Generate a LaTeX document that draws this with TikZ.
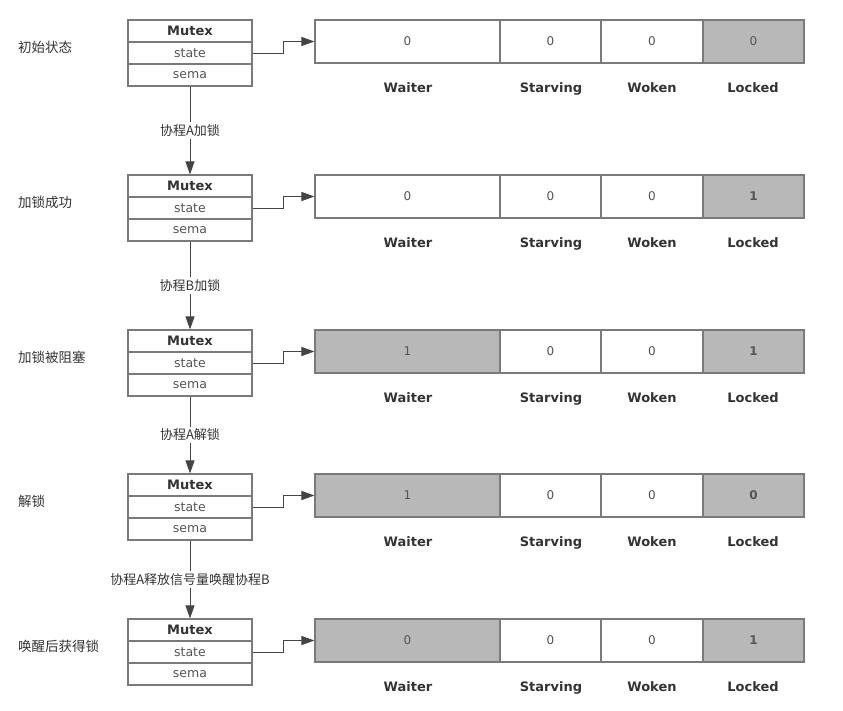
\documentclass[tikz,border=0pt]{standalone}
\usepackage{fontspec}
\setmainfont{DejaVu Sans}
\newfontfamily\cjk{Noto Sans CJK SC}
\usetikzlibrary{arrows.meta}
\definecolor{edgegray}{HTML}{7A7A7A}
\definecolor{grayfill}{HTML}{B8B8B8}
\definecolor{txt}{HTML}{333333}
\definecolor{valtxt}{HTML}{555555}
\definecolor{linecol}{HTML}{444444}
\tikzset{
  field/.style={draw=edgegray, line width=1.1pt, fill=white, minimum width=124pt,
    minimum height=22pt, inner sep=0pt, font=\fontsize{12.5}{14}\selectfont, text=valtxt},
  cell/.style={draw=edgegray, line width=1.1pt, minimum height=43pt, inner sep=0pt,
    font=\fontsize{12}{14}\selectfont, text=valtxt},
  bitlabel/.style={font=\fontsize{13}{15}\selectfont\bfseries, text=txt, inner sep=0pt,
    text height=9pt, text depth=3pt},
  sidelabel/.style={font=\cjk\fontsize{13.5}{15}\selectfont, text=txt, anchor=west, inner sep=0pt},
  conn/.style={draw=linecol, line width=1pt, -{Triangle[length=13pt,width=9pt]}},
  steplabel/.style={font=\cjk\fontsize{13}{15}\selectfont, text=txt, fill=white, inner sep=2pt}
}
\begin{document}
\begin{tikzpicture}[x=1pt,y=-1pt]
\useasboundingbox (0,0) rectangle (843,710);
\foreach \i/\t/\lab/\wv/\wf/\lv in {
  1/20/初始状态/0/white/0,
  2/175/加锁成功/0/white/\textbf{1},
  3/330/加锁被阻塞/1/grayfill/\textbf{1},
  4/474/解锁/1/grayfill/\textbf{0},
  5/619/唤醒后获得锁/0/grayfill/\textbf{1}}
{
  \node[sidelabel] (lab\i) at (18,\t+27) {\lab};
  \node[field, font=\fontsize{13}{15}\selectfont\bfseries, text=txt] (m\i) at (190,\t+11) {Mutex};
  \node[field] (st\i) at (190,\t+33) {state};
  \node[field] (se\i) at (190,\t+55) {sema};
  \node[cell, fill=\wf, minimum width=185pt] (w\i) at (407.5,\t+21.5) {\wv};
  \node[cell, fill=white, minimum width=101pt] (s\i) at (550.5,\t+21.5) {0};
  \node[cell, fill=white, minimum width=102pt] (k\i) at (652,\t+21.5) {0};
  \node[cell, fill=grayfill, minimum width=101pt] (l\i) at (753.5,\t+21.5) {\lv};
  \node[bitlabel] (wl\i) at (408,\t+69) {Waiter};
  \node[bitlabel] (sl\i) at (551,\t+69) {Starving};
  \node[bitlabel] (kl\i) at (652,\t+69) {Woken};
  \node[bitlabel] (ll\i) at (753,\t+69) {Locked};
  \draw[conn] (st\i.east) -- ++(31,0) |- (w\i.west);
}
\foreach \a/\b/\txt in {1/2/协程A加锁, 2/3/协程B加锁, 3/4/协程A解锁, 4/5/协程A释放信号量唤醒协程B}
{
  \draw[conn] (se\a.south) -- node[steplabel] {\txt} (m\b.north);
}
\end{tikzpicture}
\end{document}
